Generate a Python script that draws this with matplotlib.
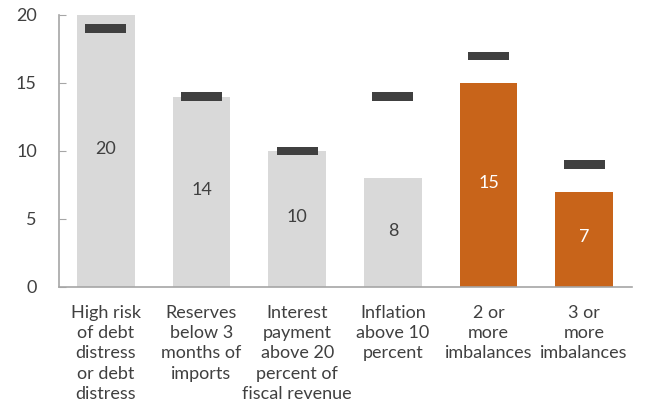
import matplotlib.pyplot as plt

categories = ['High risk\nof debt\ndistress\nor debt\ndistress',
              'Reserves\nbelow 3\nmonths of\nimports',
              'Interest\npayment\nabove 20\npercent of\nfiscal revenue',
              'Inflation\nabove 10\npercent',
              '2 or\nmore\nimbalances',
              '3 or\nmore\nimbalances']
values = [20, 14, 10, 8, 15, 7]
markers = [19, 14, 10, 14, 17, 9]

gray = '#d9d9d9'
orange = '#c8641a'
dark = '#404040'
colors = [gray, gray, gray, gray, orange, orange]
label_colors = [dark, dark, dark, dark, 'white', 'white']

plt.rcParams['font.family'] = ['Lato', 'DejaVu Sans']

fig = plt.figure(figsize=(6.54, 4.13), dpi=100)
ax = fig.add_axes([0.0902, 0.3051, 0.8762, 0.6586])

x = range(len(values))
ax.bar(x, values, width=0.6, color=colors, zorder=2)

# dark marker bars
ax.bar(x, [0.62] * len(markers), bottom=[m - 0.31 for m in markers],
       width=0.43, color=dark, zorder=3)

for i, v in enumerate(values):
    ax.text(i, v / 2 + 0.15, str(v), ha='center', va='center', fontsize=13,
            color=label_colors[i], zorder=4)

ax.set_xlim(-0.49, 5.5)
ax.set_ylim(0, 20)
ax.set_yticks([0, 5, 10, 15, 20])
ax.set_xticks(list(x))
ax.set_xticklabels(categories, fontsize=13, color=dark, linespacing=1.32)

for s in ['top', 'right']:
    ax.spines[s].set_visible(False)
for s in ['left', 'bottom']:
    ax.spines[s].set_color('#a6a6a6')
    ax.spines[s].set_linewidth(1.2)

ax.tick_params(axis='y', direction='in', length=5, color='#a6a6a6',
               labelsize=13, labelcolor=dark, pad=16)
ax.tick_params(axis='x', length=0, pad=13)

fig.savefig('out.png', dpi=100)
